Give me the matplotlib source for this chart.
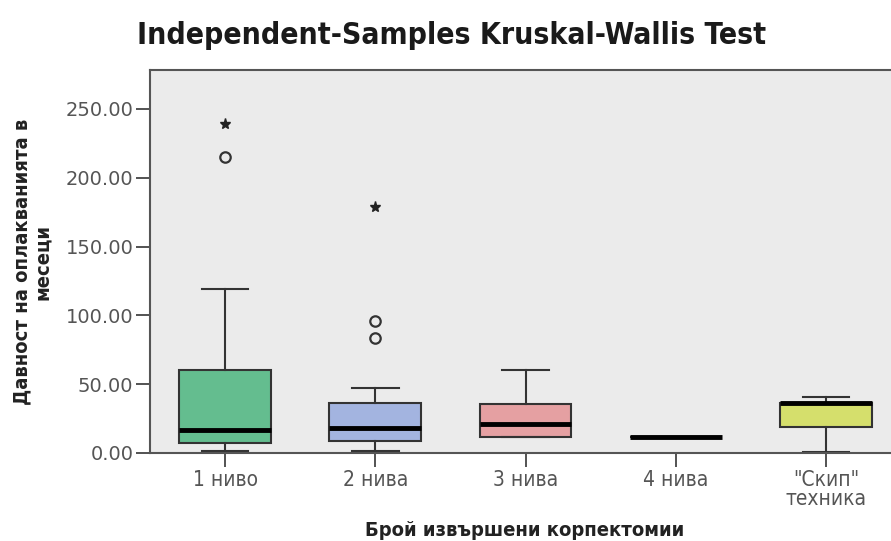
#!/usr/bin/env python3
import matplotlib
matplotlib.use("Agg")
import matplotlib.pyplot as plt

# data (months)
groups = ['1 ниво', '2 нива', '3 нива', '4 нива', '"Скип"\nтехника']
whislo = [1.5, 1.5, 11.4, 11.4, 0.9]
q1 = [7.3, 8.7, 11.4, 11.4, 19.1]
med = [16.7, 18.4, 21.1, 11.4, 36.1]
q3 = [60.3, 36.1, 35.6, 11.4, 36.1]
whishi = [119.2, 47.5, 60.3, 11.4, 40.5]
outliers = [[214.9], [95.9, 83.4], [], [], []]
extremes = [[238.9], [179.0], [], [], []]
box_colors = ['#64bd8f', '#a3b4e0', '#e5a0a2', '#8a8a8a', '#d5df6c']

plt.rcParams['font.family'] = ['DejaVu Sans']

fig = plt.figure(figsize=(8.91, 5.41), dpi=100)
ax = fig.add_axes([150 / 891, 88 / 541, 751 / 891, 383 / 541])
ax.set_facecolor('#ebebeb')

stats = []
for i in range(len(groups)):
    stats.append(dict(whislo=whislo[i], q1=q1[i], med=med[i], q3=q3[i],
                      whishi=whishi[i], fliers=[]))

pos = list(range(1, len(groups) + 1))
bp = ax.bxp(stats, positions=pos, widths=0.61, patch_artist=True,
            showfliers=False,
            boxprops=dict(edgecolor='#333333', linewidth=1.5),
            whiskerprops=dict(color='#333333', linewidth=1.5),
            capprops=dict(color='#333333', linewidth=1.5),
            medianprops=dict(color='black', linewidth=3.5, solid_capstyle='butt'))
for patch, c in zip(bp['boxes'], box_colors):
    patch.set_facecolor(c)
for cap in bp['caps']:
    x0, x1 = cap.get_xdata()
    xc = (x0 + x1) / 2
    cap.set_xdata([xc - 0.155, xc + 0.155])

for p, vals in zip(pos, outliers):
    if vals:
        ax.plot([p] * len(vals), vals, 'o', mfc='none', mec='#333333',
                mew=1.6, ms=7.5)
for p, vals in zip(pos, extremes):
    if vals:
        ax.plot([p] * len(vals), vals, '*', color='#222222', ms=8)

ax.set_xlim(0.5, 5.5)
ax.set_ylim(0, 278.3)
ax.set_xticks(pos)
ax.set_xticklabels(groups, fontsize=15, color='#555555', linespacing=0.95,
                   fontstretch='condensed')
ax.set_yticks([0, 50, 100, 150, 200, 250])
ax.set_yticklabels(['%.2f' % v for v in [0, 50, 100, 150, 200, 250]],
                   fontsize=14, color='#555555')
ax.tick_params(axis='both', direction='out', length=10, width=1.3,
               color='#444444', pad=2)

for s in ['left', 'top', 'bottom']:
    ax.spines[s].set_color('#555555')
    ax.spines[s].set_linewidth(1.5)
ax.spines['right'].set_visible(False)

ax.set_xlabel('Брой извършени корпектомии', fontsize=14.5, fontweight='bold',
              color='#222222', fontstretch='condensed')
ax.xaxis.set_label_coords((525 - 150) / 751, -68 / 383)
ax.set_ylabel('Давност на оплакванията в\nмесеци', fontsize=14.5,
              fontweight='bold', color='#222222', linespacing=1.1,
              fontstretch='condensed')
ax.yaxis.set_label_coords(-98 / 751, 0.5)

fig.text(452 / 891, 1 - 36 / 541, 'Independent-Samples Kruskal-Wallis Test',
         ha='center', va='center', fontsize=21.6, fontweight='bold',
         fontstretch='condensed', color='#1a1a1a')

plt.savefig('out.png', dpi=100)
